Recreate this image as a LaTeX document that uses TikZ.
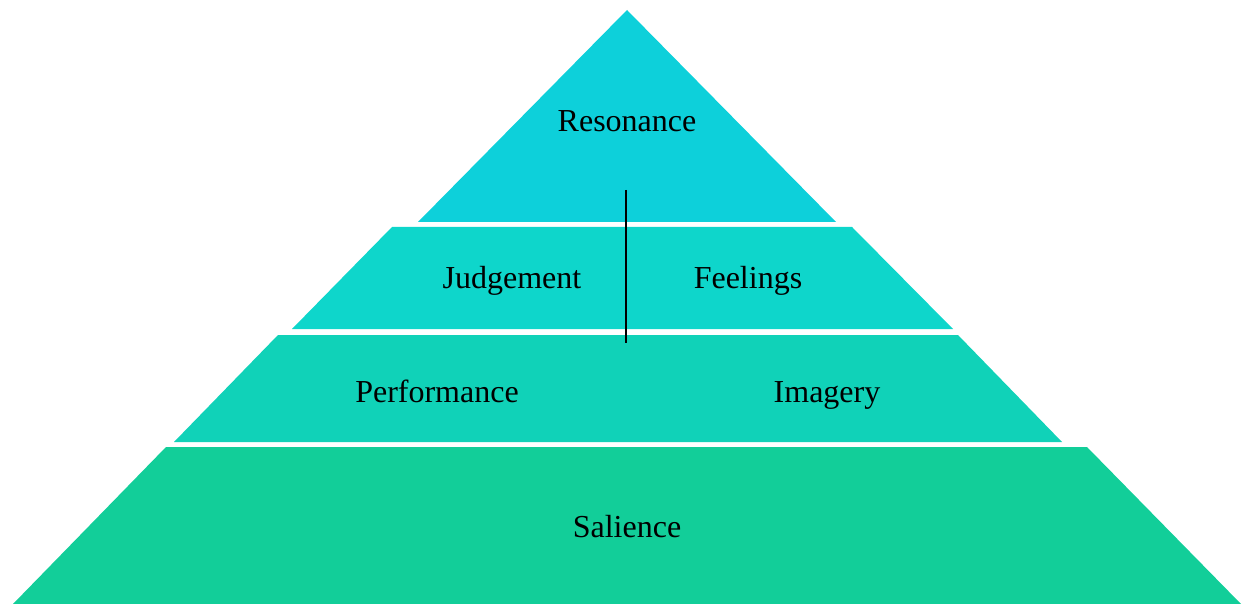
\documentclass[tikz,border=0pt]{standalone}
\usepackage{fontspec}
\setmainfont{Liberation Serif}
\definecolor{tierA}{RGB}{13,208,218}
\definecolor{tierB}{RGB}{14,214,203}
\definecolor{tierC}{RGB}{16,210,184}
\definecolor{tierD}{RGB}{18,206,153}
\tikzset{
    tier/.style={draw=none},
    lbl/.style={font=\fontsize{32}{38}\selectfont, inner sep=0pt, anchor=base}
}
\begin{document}
\begin{tikzpicture}[x=1pt, y=-1pt]
        \useasboundingbox (0,0) rectangle (1243,604);
        % Pyramid tiers (top to bottom)
        \fill[tier, tierA] (627,10) -- (836,222) -- (418,222) -- cycle;
        \fill[tier, tierB] (392,227) -- (852,227) -- (953,329) -- (292,329) -- cycle;
        \fill[tier, tierC] (278,335) -- (958,335) -- (1062,442) -- (174,442) -- cycle;
        \fill[tier, tierD] (166,447) -- (1087,447) -- (1241,604) -- (13,604) -- cycle;
        % Divider
        \coordinate (divtop) at (626,190);
        \coordinate (divbot) at (626,343);
        \draw[black, line width=1.5pt] (divtop) -- (divbot);
        % Tier labels (placed on baselines)
        \foreach \n/\x/\y/\t in {res/627/132/Resonance, jud/512/289/Judgement, fee/748/289/Feelings,
                                 per/437/402/Performance, ima/827/402/Imagery, sal/627/537/Salience} {
            \node[lbl] (\n) at (\x,\y) {\t};
        }
    \end{tikzpicture}
\end{document}
